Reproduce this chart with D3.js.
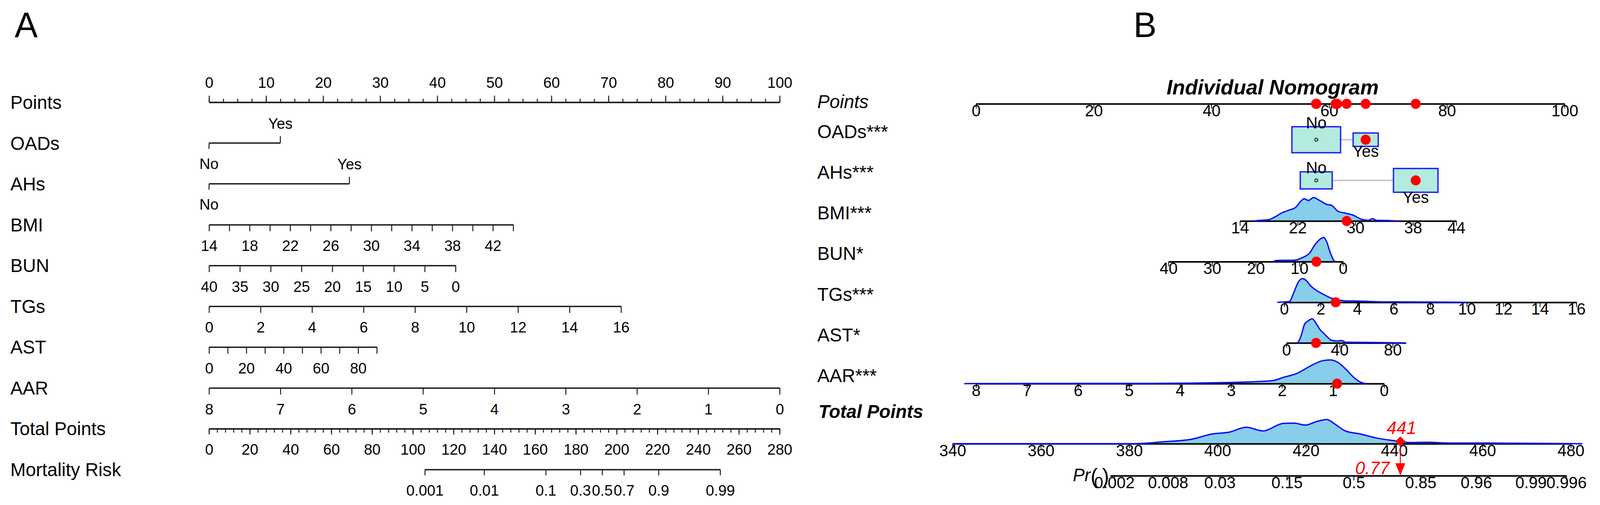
<!DOCTYPE html>
<html>
<head>
<meta charset="utf-8">
<script src="https://cdn.jsdelivr.net/npm/d3@7"></script>
<style>
  html, body { margin: 0; padding: 0; width: 100%; height: 100%; overflow: hidden; background: #fff; }
  svg { display: block; width: 100vw; height: 100vh; }
</style>
</head>
<body>
<svg id="graph" viewBox="0 0 4164 1294" preserveAspectRatio="none"></svg>
<script>
// ---------- panel A : rms nomogram ----------
const rowsA = ['Points', 'OADs', 'AHs', 'BMI', 'BUN', 'TGs', 'AST', 'AAR', 'Total Points', 'Mortality Risk'];
const pointTicksA = [0, 10, 20, 30, 40, 50, 60, 70, 80, 90, 100];
const yesNo = ['No', 'Yes'];
const oadsPtsA = [0, 12.5];
const ahsPtsA = [0, 24.6];
const bmiRangeA = [14, 44], bmiPtsA = [0, 53.3];
const bmiTicksA = [14, 16, 18, 20, 22, 24, 26, 28, 30, 32, 34, 36, 38, 40, 42, 44];
const bmiLabelsA = [14, 18, 22, 26, 30, 34, 38, 42];
const bunRangeA = [40, 0], bunPtsA = [0, 43.2];
const bunTicksA = [40, 35, 30, 25, 20, 15, 10, 5, 0];
const tgsRangeA = [0, 16], tgsPtsA = [0, 72.2];
const tgsTicksA = [0, 2, 4, 6, 8, 10, 12, 14, 16];
const astRangeA = [0, 90], astPtsA = [0, 29.4];
const astTicksA = [0, 10, 20, 30, 40, 50, 60, 70, 80, 90];
const astLabelsA = [0, 20, 40, 60, 80];
const aarRangeA = [8, 0], aarPtsA = [0, 100];
const aarTicksA = [8, 7, 6, 5, 4, 3, 2, 1, 0];
const totalTicksA = [0, 20, 40, 60, 80, 100, 120, 140, 160, 180, 200, 220, 240, 260, 280];
const riskTicksA = [0.001, 0.01, 0.1, 0.3, 0.5, 0.7, 0.9, 0.99];
const riskMidA = 192.9;     // total points where risk = 0.5
const riskSlopeA = 12.6;    // total points per logit unit

// ---------- panel B : regplot individual nomogram ----------
const varsB = ['OADs', 'AHs', 'BMI', 'BUN', 'TGs', 'AST', 'AAR'];
const starsB = ['***', '***', '***', '*', '***', '*', '***'];
const pointTicksB = [0, 20, 40, 60, 80, 100];
const oadsFreqB = [0.79, 0.21], oadsPtsB = [57.8, 66.2];
const ahsFreqB = [0.34, 0.66], ahsPtsB = [57.8, 74.7];
const bmiRangeB = [14, 44], bmiPtsB = [44.84, 81.59], bmiTicksB = [14, 22, 30, 38, 44];
const bunRangeB = [40, 0], bunPtsB = [32.70, 62.34], bunTicksB = [40, 30, 20, 10, 0];
const tgsRangeB = [0, 16], tgsPtsB = [52.35, 102.0], tgsTicksB = [0, 2, 4, 6, 8, 10, 12, 14, 16];
const astRangeB = [0, 90], astPtsB = [52.74, 73.04], astTicksB = [0, 40, 80];
const aarRangeB = [8, 0], aarPtsB = [0, 69.32], aarTicksB = [8, 7, 6, 5, 4, 3, 2, 1, 0];
const totalRangeB = [340, 480], totalTicksB = [340, 360, 380, 400, 420, 440, 460, 480];
const prTicksB = [0.002, 0.008, 0.03, 0.15, 0.5, 0.85, 0.96, 0.99, 0.996];
const prRangeB = [0.0018, 0.996];
const prMidB = 430.84, prSlopeB = 8.727;

// patient values
const patient = { OADs: 'Yes', AHs: 'Yes', BMI: 28.8, BUN: 6.1, TGs: 2.82, AST: 22.3, AAR: 0.92 };
const patientTotal = 441.4;
const patientProb = 0.77;

// density curves [value, relative density]
const bmiDens = [[16, 0], [16.5, 0.02], [17.9, 0.05], [18.8, 0.16], [19.7, 0.32], [20.8, 0.45], [21.7, 0.56], [22.2, 0.73],
  [22.9, 0.92], [23.5, 0.85], [24.2, 0.97], [25.1, 0.84], [26.0, 0.69], [26.7, 0.65], [27.6, 0.40], [28.7, 0.32],
  [29.7, 0.24], [30.8, 0.08], [31.8, 0.03], [32.4, 0.10], [32.9, 0.03], [34.4, 0.02], [36, 0]];
const bunDens = [[16, 0], [15.3, 0.05], [11.1, 0.06], [9.4, 0.16], [7.6, 0.37], [6.5, 0.68], [5.5, 0.89], [4.4, 1.0],
  [3.8, 0.85], [2.9, 0.37], [2.0, 0.03], [1.7, 0]];
const tgsDens = [[-0.38, 0], [0.27, 0.03], [0.55, 0.44], [0.76, 0.82], [0.99, 0.98], [1.18, 0.92], [1.45, 0.68],
  [1.75, 0.5], [2.1, 0.35], [2.52, 0.19], [2.86, 0.11], [3.36, 0.06], [4.06, 0.05], [5.47, 0.02], [8, 0.01], [10, 0]];
const astDens = [[8, 0], [8.7, 0.03], [10.7, 0.24], [13.6, 0.77], [16.5, 0.92], [19.4, 1.0], [22.3, 0.81], [25.2, 0.56],
  [28.1, 0.40], [31.0, 0.24], [33.9, 0.11], [37.7, 0.08], [41.7, 0.10], [44.6, 0.03], [64, 0.02], [90, 0]];
const aarDens = [[8.23, 0], [6, 0.01], [4.5, 0.01], [3.78, 0.02], [2.97, 0.05], [2.52, 0.08], [2.17, 0.13], [1.97, 0.26],
  [1.71, 0.42], [1.46, 0.71], [1.20, 0.95], [1.05, 0.98], [0.90, 0.87], [0.75, 0.60], [0.60, 0.27], [0.45, 0.05], [0.35, 0]];
const totalDens = [[340, 0], [380.8, 0], [387.7, 0.08], [394, 0.18], [398.7, 0.40], [402.7, 0.48], [406.5, 0.68],
  [410.3, 0.53], [414.9, 0.84], [417.3, 0.85], [419.9, 0.77], [422.5, 0.92], [424.8, 1.0], [426.6, 0.81], [428.9, 0.53],
  [432.4, 0.40], [435.9, 0.24], [440.6, 0.11], [443.5, 0.05], [447.6, 0.06], [452.3, 0.03], [458.1, 0.03],
  [466.9, 0.02], [482.6, 0]];

// ---------- drawing ----------
const FONT = '"Liberation Sans", Arial, Helvetica, sans-serif';
const svg = d3.select('#graph').attr('font-family', FONT);
const logit = p => Math.log(p / (1 - p));

// common axis styling
const styleAxis = (sel, o) => {
  sel.attr('font-size', o.fs).attr('font-family', FONT);
  sel.select('.domain').attr('stroke', o.color).attr('stroke-width', o.lw);
  sel.selectAll('.tick line').attr('stroke', o.color).attr('stroke-width', o.tw);
  sel.selectAll('.tick text').attr('fill', '#000');
  return sel;
};

// ===== A =====
const gA = svg.append('g');
const xPtsA = d3.scaleLinear().domain([0, 100]).range([544, 2029]);
const yRowA = d3.scalePoint().domain(rowsA).range([262, 1203]);
const axA = { color: '#1a1a1a', lw: 3.5, tw: 2.5, fs: 39 };

gA.append('text').attr('x', 38).attr('y', 95).attr('font-size', 90).text('A');

gA.selectAll('.rowlab').data(rowsA).enter().append('text')
  .attr('class', 'rowlab')
  .attr('x', 27)
  .attr('y', d => yRowA(d) + 17)
  .attr('font-size', 48)
  .text(d => d);

// Points axis (ticks upward)
const gPts = gA.append('g').attr('transform', `translate(0,${yRowA('Points')})`);
styleAxis(gPts.append('g').call(d3.axisTop(xPtsA).tickValues(d3.range(0, 100.01, 2.5))
  .tickSize(9).tickSizeOuter(0).tickFormat('')), axA);
styleAxis(gPts.append('g').call(d3.axisTop(xPtsA).tickValues(pointTicksA)
  .tickSize(17).tickSizeOuter(0).tickPadding(20)), axA);

// categorical rows
const catRowA = (name, levels, pts) => {
  const y = yRowA(name);
  const x = d3.scaleOrdinal().domain(levels).range(pts.map(p => xPtsA(p)));
  const g = gA.append('g');
  g.append('line').attr('x1', x(levels[0])).attr('x2', x(levels[1]))
    .attr('y1', y).attr('y2', y).attr('stroke', axA.color).attr('stroke-width', axA.lw);
  g.append('line').attr('x1', x(levels[0])).attr('x2', x(levels[0]))
    .attr('y1', y).attr('y2', y + 15).attr('stroke', axA.color).attr('stroke-width', axA.tw);
  g.append('line').attr('x1', x(levels[1])).attr('x2', x(levels[1]))
    .attr('y1', y).attr('y2', y - 18).attr('stroke', axA.color).attr('stroke-width', axA.tw);
  g.append('text').attr('x', x(levels[0])).attr('y', y + 66).attr('text-anchor', 'middle')
    .attr('font-size', axA.fs).text(levels[0]);
  g.append('text').attr('x', x(levels[1])).attr('y', y - 37).attr('text-anchor', 'middle')
    .attr('font-size', axA.fs).text(levels[1]);
};
catRowA('OADs', yesNo, oadsPtsA);
catRowA('AHs', yesNo, ahsPtsA);

// numeric rows
const numRowA = (name, range, pts, ticks, labels) => {
  const s = d3.scaleLinear().domain(range).range(pts.map(p => xPtsA(p)));
  const g = gA.append('g').attr('transform', `translate(0,${yRowA(name)})`)
    .call(d3.axisBottom(s).tickValues(ticks).tickSize(17).tickSizeOuter(0).tickPadding(23)
      .tickFormat(d => labels.includes(d) ? String(d) : ''));
  styleAxis(g, axA);
};
numRowA('BMI', bmiRangeA, bmiPtsA, bmiTicksA, bmiLabelsA);
numRowA('BUN', bunRangeA, bunPtsA, bunTicksA, bunTicksA);
numRowA('TGs', tgsRangeA, tgsPtsA, tgsTicksA, tgsTicksA);
numRowA('AST', astRangeA, astPtsA, astTicksA, astLabelsA);
numRowA('AAR', aarRangeA, aarPtsA, aarTicksA, aarTicksA);

// total points
const xTotA = d3.scaleLinear().domain([0, 280]).range([544, 2029]);
const gTot = gA.append('g').attr('transform', `translate(0,${yRowA('Total Points')})`);
styleAxis(gTot.append('g').call(d3.axisBottom(xTotA).tickValues(d3.range(0, 281, 4))
  .tickSize(10).tickSizeOuter(0).tickFormat('')), axA);
styleAxis(gTot.append('g').call(d3.axisBottom(xTotA).tickValues(totalTicksA)
  .tickSize(15).tickSizeOuter(0).tickPadding(24)), axA);

// mortality risk (logit scale tied to total points)
const riskLogits = [logit(riskTicksA[0]), logit(riskTicksA[riskTicksA.length - 1])];
const xRiskA = d3.scaleLinear().domain(riskLogits)
  .range(riskLogits.map(l => xTotA(riskMidA + riskSlopeA * l)));
styleAxis(gA.append('g').attr('transform', `translate(0,${yRowA('Mortality Risk')})`)
  .call(d3.axisBottom(xRiskA).tickValues(riskTicksA.map(logit)).tickSize(15).tickSizeOuter(0)
    .tickPadding(24).tickFormat((d, i) => String(riskTicksA[i]))), axA);

// ===== B =====
const gB = svg.append('g');
const xPtsB = d3.scaleLinear().domain([0, 100]).range([2540, 4072]);
const yRowB = d3.scalePoint().domain(varsB).range([337, 962]);
const axB = { color: '#000', lw: 4, tw: 2, fs: 42 };
const RED = '#ff0000';
const densH = d3.scaleLinear().domain([0, 1]).range([0, 62]);
const ptsAxisY = 266, totLabY = 1054, totAxisY = 1137, prAxisY = 1219, itemOff = 21;

gB.append('text').attr('x', 2950).attr('y', 95).attr('font-size', 90).text('B');
gB.append('text').attr('x', 3312).attr('y', 242).attr('text-anchor', 'middle')
  .attr('font-size', 54).attr('font-weight', 'bold').attr('font-style', 'italic')
  .text('Individual Nomogram');

gB.append('text').attr('x', 2127).attr('y', 260 + 17).attr('font-size', 48)
  .attr('font-style', 'italic').text('Points');
gB.selectAll('.rowlabB').data(varsB).enter().append('text')
  .attr('class', 'rowlabB')
  .attr('x', 2127)
  .attr('y', d => yRowB(d) + 17)
  .attr('font-size', 48)
  .text((d, i) => d + starsB[i]);
gB.append('text').attr('x', 2130).attr('y', totLabY + 17).attr('font-size', 48)
  .attr('font-weight', 'bold').attr('font-style', 'italic').text('Total Points');

const axisB = (s, y, ticks, fmt) => {
  const g = gB.append('g').attr('transform', `translate(0,${y})`)
    .call(d3.axisBottom(s).tickValues(ticks).tickSize(12).tickSizeOuter(0).tickPadding(-10)
      .tickFormat(fmt || (d => String(d))));
  styleAxis(g, axB);
  return g;
};

// points axis B
axisB(xPtsB, ptsAxisY, pointTicksB);

const densArea = (s, y, dens) => {
  const pts = dens.slice().sort((a, b) => s(a[0]) - s(b[0]));
  gB.append('path').datum(pts)
    .attr('d', d3.area().x(d => s(d[0])).y0(y).y1(d => y - densH(d[1])).curve(d3.curveMonotoneX))
    .attr('fill', '#87ceeb');
  return pts;
};
const densLine = (s, y, pts) => {
  gB.append('path').datum(pts)
    .attr('d', d3.line().x(d => s(d[0])).y(d => y - densH(d[1])).curve(d3.curveMonotoneX))
    .attr('fill', 'none').attr('stroke', '#0a0aff').attr('stroke-width', 3.5);
};
const redDot = (x, y) => gB.append('circle').attr('cx', x).attr('cy', y).attr('r', 13).attr('fill', RED);

const patientPts = [];

// categorical rows B
const boxSide = d3.scaleSqrt().domain([0, 1]).range([0, 75]);
const catRowB = (name, freqs, pts) => {
  const y = yRowB(name) + itemOff;
  const x = d3.scaleOrdinal().domain(yesNo).range(pts.map(p => xPtsB(p)));
  gB.append('line').attr('x1', x('No')).attr('x2', x('Yes')).attr('y1', y).attr('y2', y)
    .attr('stroke', '#c8c8c8').attr('stroke-width', 4);
  yesNo.forEach((lev, i) => {
    const h = boxSide(freqs[i]), w = h * 1.9;
    gB.append('rect').attr('x', x(lev) - w / 2).attr('y', y - h / 2).attr('width', w).attr('height', h)
      .attr('fill', '#b3ebdf').attr('stroke', '#1e1eff').attr('stroke-width', 3.5);
    gB.append('circle').attr('cx', x(lev)).attr('cy', y).attr('r', 4)
      .attr('fill', 'none').attr('stroke', '#000').attr('stroke-width', 2);
    gB.append('text').attr('x', x(lev))
      .attr('y', i === 0 ? y - h / 2 + 4 : y + h / 2 + 27)
      .attr('text-anchor', 'middle').attr('font-size', 42).text(lev);
  });
  const lev = patient[name];
  redDot(x(lev), y);
  patientPts.push(pts[yesNo.indexOf(lev)]);
};
catRowB('OADs', oadsFreqB, oadsPtsB);
catRowB('AHs', ahsFreqB, ahsPtsB);

// numeric rows B
const numRowB = (name, range, pts, ticks, dens) => {
  const y = yRowB(name) + itemOff;
  const s = d3.scaleLinear().domain(range).range(pts.map(p => xPtsB(p)));
  const sorted = densArea(s, y, dens);
  axisB(s, y, ticks);
  densLine(s, y, sorted);
  redDot(s(patient[name]), y);
  patientPts.push(d3.scaleLinear().domain(range).range(pts)(patient[name]));
};
numRowB('BMI', bmiRangeB, bmiPtsB, bmiTicksB, bmiDens);
numRowB('BUN', bunRangeB, bunPtsB, bunTicksB, bunDens);
numRowB('TGs', tgsRangeB, tgsPtsB, tgsTicksB, tgsDens);
numRowB('AST', astRangeB, astPtsB, astTicksB, astDens);
numRowB('AAR', aarRangeB, aarPtsB, aarTicksB, aarDens);

// dots on the points axis
patientPts.forEach(p => redDot(xPtsB(p), ptsAxisY));

// total points B
const xTotB = d3.scaleLinear().domain(totalRangeB).range([2479, 4088]);
const totSorted = densArea(xTotB, totAxisY, totalDens);
axisB(xTotB, totAxisY, totalTicksB);
densLine(xTotB, totAxisY, totSorted);

// probability axis
const prLogits = prRangeB.map(logit);
const xPrB = d3.scaleLinear().domain(prLogits).range(prLogits.map(l => xTotB(prMidB + prSlopeB * l)));
axisB(xPrB, prAxisY, prTicksB.map(logit), (d, i) => String(prTicksB[i]));

gB.append('text').attr('x', 2792).attr('y', 1233).attr('font-size', 46)
  .attr('font-style', 'italic').text('Pr');
gB.append('text').attr('x', 2838).attr('y', 1239).attr('font-size', 56).text('(');
gB.append('text').attr('x', 2868).attr('y', 1239).attr('font-size', 56).text(')');

// patient total and probability
const xT = xTotB(patientTotal);
gB.append('line').attr('x1', xT).attr('x2', xT).attr('y1', totAxisY).attr('y2', prAxisY - 25)
  .attr('stroke', RED).attr('stroke-width', 2.5);
gB.append('path')
  .attr('d', `M${xT - 13},${prAxisY - 32}L${xT + 13},${prAxisY - 32}L${xT},${prAxisY - 1}Z`)
  .attr('fill', RED);
gB.append('path').attr('d', d3.symbol(d3.symbolSquare, 340)())
  .attr('transform', `translate(${xT},${totAxisY - 6}) rotate(45)`)
  .attr('fill', RED);
gB.append('text').attr('x', xT + 3).attr('y', totAxisY - 25).attr('text-anchor', 'middle')
  .attr('font-size', 46).attr('font-style', 'italic').attr('fill', RED)
  .text(Math.round(patientTotal));
gB.append('text').attr('x', xT - 28).attr('y', prAxisY - 4).attr('text-anchor', 'end')
  .attr('font-size', 46).attr('font-style', 'italic').attr('fill', RED)
  .text(String(patientProb));
</script>
</body>
</html>
